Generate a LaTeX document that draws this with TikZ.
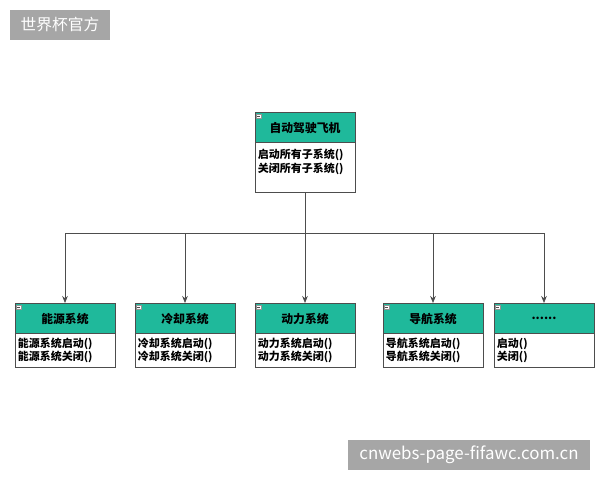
\documentclass[tikz,border=0pt]{standalone}
\usepackage{fontspec}
\setmainfont{Noto Sans CJK SC}
\usetikzlibrary{arrows.meta,positioning}
\definecolor{hdteal}{HTML}{1FB99B}
\definecolor{wmgray}{HTML}{A6A6A6}
\definecolor{edge}{HTML}{4D4D4D}

\begin{document}
\begin{tikzpicture}[x=0.025cm, y=-0.025cm,
    head/.style={draw=edge, fill=hdteal, minimum width=2.5cm, minimum height=0.74cm, inner sep=0pt, font=\fontsize{8.4}{9}\selectfont\bfseries, anchor=north, text depth=0pt},
    body/.style={draw=edge, fill=white, minimum width=2.5cm, inner sep=0pt, anchor=north, align=left, font=\fontsize{7.8}{9.8}\selectfont\bfseries, text width=2.35cm},
    icon/.style={draw=edge!60, fill=white, minimum size=0.11cm, inner sep=0pt},
    arr/.style={-{Stealth[length=5pt, width=4pt]}, edge, line width=0.5pt},
    wm/.style={fill=wmgray, text=white, inner sep=0pt}
]
\useasboundingbox (0,0) rectangle (600,480);

% watermarks
\node[wm, minimum width=2.5cm, minimum height=0.75cm, font=\fontsize{11.2}{12}\selectfont] (wmtop) at (60,25) {世界杯官方};
\node[wm, minimum width=6.05cm, minimum height=0.75cm, font=\fontsize{12}{13}\selectfont] (wmbot) at (469,455) {cnwebs-page-fifawc.com.cn};

% root class
\node[head] (root) at (305,112) {自动驾驶飞机};
\node[body, minimum height=1.25cm, below=0pt of root] (rootb) {启动所有子系统()\\关闭所有子系统()\\\mbox{}};

% subsystem classes
\node[head] (s1) at (65,303) {能源系统};
\node[head] (s2) at (185,303) {冷却系统};
\node[head] (s3) at (305,303) {动力系统};
\node[head] (s4) at (433,303) {导航系统};
\node[head] (s5) at (544,303) {......};
\node[body, minimum height=0.85cm, below=0pt of s1] (s1b) {能源系统启动()\\能源系统关闭()};
\node[body, minimum height=0.85cm, below=0pt of s2] (s2b) {冷却系统启动()\\冷却系统关闭()};
\node[body, minimum height=0.85cm, below=0pt of s3] (s3b) {动力系统启动()\\动力系统关闭()};
\node[body, minimum height=0.85cm, below=0pt of s4] (s4b) {导航系统启动()\\导航系统关闭()};
\node[body, minimum height=0.85cm, below=0pt of s5] (s5b) {启动()\\关闭()};

% collapse icons
\foreach \n in {root,s1,s2,s3,s4,s5}{
  \node[icon] (\n i) at ([xshift=0.1cm, yshift=-0.1cm]\n.north west) {};
  \draw[edge, line width=0.3pt] ([xshift=-0.035cm]\n i.center) -- ([xshift=0.035cm]\n i.center);
}

% connectors
\coordinate (bus) at (305,233);
\draw[edge, line width=0.5pt] (rootb.south) -- (bus);
\foreach \n in {s1,s2,s3,s4,s5}
  \draw[arr] (bus) -| (\n.north);
\end{tikzpicture}
\end{document}
